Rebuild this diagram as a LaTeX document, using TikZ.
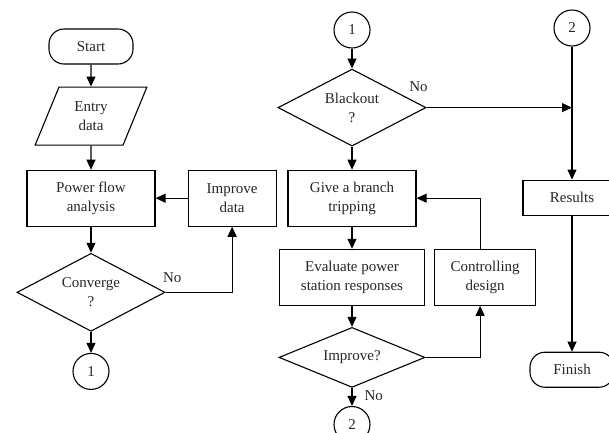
\documentclass[tikz,border=0pt]{standalone}
\usepackage{fontspec}
\setmainfont{Liberation Serif}
\usetikzlibrary{positioning,shapes.geometric,arrows.meta}

\tikzset{
  base/.style={draw, line width=1.1pt, font=\fontsize{15}{19}\selectfont, align=center, text=black!85},
  process/.style={base, rectangle, minimum height=56pt, inner sep=2pt},
  terminal/.style={base, rectangle, rounded corners=15pt, minimum width=84pt, minimum height=35pt},
  inout/.style={base, trapezium, trapezium left angle=67, trapezium right angle=113, trapezium stretches=true, minimum width=112pt, minimum height=58pt, inner sep=1pt},
  decision/.style={base, diamond, aspect=1.9, minimum width=148pt, minimum height=78pt, inner sep=0pt},
  joint/.style={base, circle, minimum size=36pt, inner sep=0pt},
  flow/.style={line width=1.1pt, -{Triangle[length=10pt,width=9pt]}},
  nolabel/.style={font=\fontsize{15}{19}\selectfont, text=black!85, inner sep=1pt},
}

\begin{document}
\begin{tikzpicture}[x=1pt, y=1pt]
  \useasboundingbox (0,0) rectangle (609,-432);

  % left column
  \node[terminal] (start) at (91,-46.5) {Start};
  \node[inout, below=22pt of start] (entry) {Entry\\data};
  \node[process, minimum width=128pt, below=24pt of entry] (power) {Power flow\\analysis};
  \node[process, minimum width=88pt, right=32pt of power] (improve) {Improve\\data};
  \node[decision, below=26pt of power] (conv) {Converge\\?};
  \node[joint, below=21pt of conv] (c1) {1};

  % middle column
  \node[joint] (m1) at (352,-30) {1};
  \node[decision, minimum height=77pt, below=20pt of m1] (blackout) {Blackout\\?};
  \node[process, minimum width=128pt, below=23pt of blackout] (trip) {Give a branch\\tripping};
  \node[process, minimum width=145pt, below=22pt of trip] (eval) {Evaluate power\\station responses};
  \node[process, minimum width=101pt, right=9pt of eval] (ctrl) {Controlling\\design};
  \node[decision, minimum width=146pt, minimum height=60pt, below=21pt of eval] (impr) {Improve?};
  \node[joint, below=18pt of impr] (m2) {2};

  % right column
  \node[joint] (r2) at (572,-28) {2};
  \node[process, minimum width=98pt, minimum height=35pt, below=133pt of r2] (results) {Results};
  \node[terminal, below=136pt of results] (finish) {Finish};
  \coordinate (junc) at (r2 |- blackout.east);

  \draw[flow] (start) -- (entry);
  \draw[flow] (entry) -- (power);
  \draw[flow] (improve) -- (power);
  \draw[flow] (power) -- (conv);
  \draw[flow] (conv.east) -| node[nolabel, pos=0.05, above=8pt] {No} (improve.south);
  \draw[flow] (conv) -- (c1);

  \draw[flow] (m1) -- (blackout);
  \draw[flow] (blackout.east) -- node[nolabel, pos=0, above=14pt, xshift=-8pt] {No} (junc);
  \draw[flow] (blackout) -- (trip);
  \draw[flow] (trip) -- (eval);
  \draw[flow] ([xshift=-5pt]ctrl.north) |- (trip.east);
  \draw[flow] (eval) -- (impr);
  \draw[flow] (impr.east) -| ([xshift=-5pt]ctrl.south);
  \draw[flow] (impr) -- node[nolabel, pos=0.4, right=11pt] {No} (m2);

  \draw[flow] (r2) -- (results);
  \draw[flow] (results) -- (finish);
\end{tikzpicture}
\end{document}
